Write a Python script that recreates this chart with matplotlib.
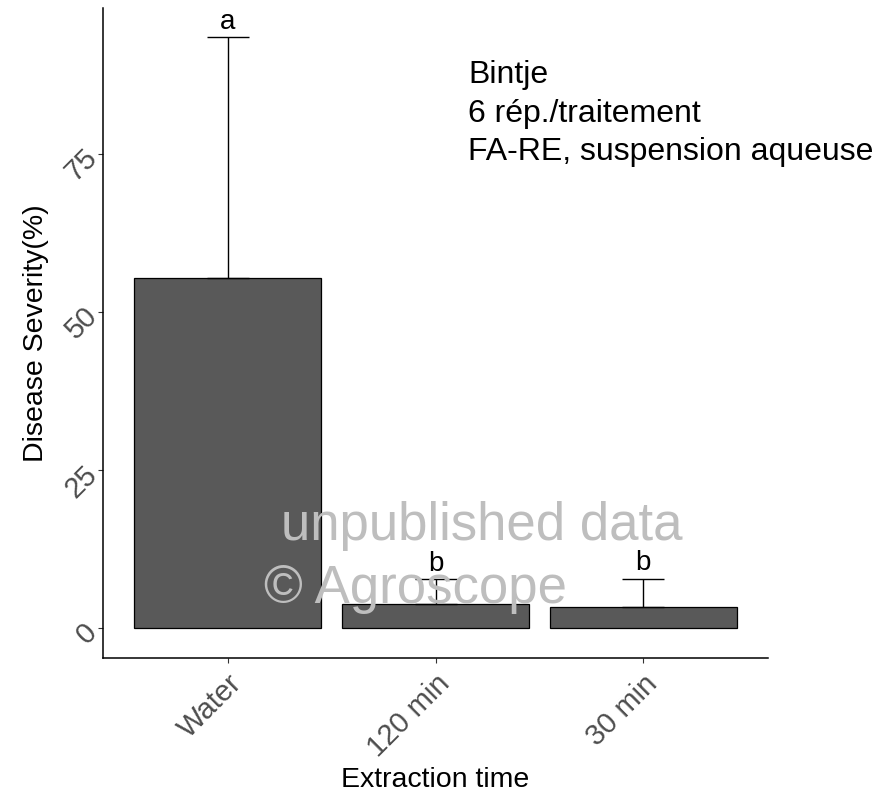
import matplotlib
matplotlib.use("Agg")
import matplotlib.pyplot as plt
import numpy as np

# data
categories = ["Water", "120 min", "30 min"]
means = [55.4, 3.8, 3.4]
se = [38.0, 3.9, 4.4]
letters = ["a", "b", "b"]

plt.rcParams['font.family'] = ['Liberation Sans', 'DejaVu Sans']

fig = plt.figure(figsize=(8.76, 7.98), dpi=100)
ax = fig.add_axes([103/876, 1-657.7/798, (768-103)/876, (657.7-8)/798])

x = np.arange(1, len(categories)+1)
ax.bar(x, means, width=0.9, color='#595959', edgecolor='black', linewidth=0.9, zorder=2)
ax.errorbar(x, means, yerr=[np.zeros(len(se)), se], fmt='none', ecolor='black',
            elinewidth=1.0, capsize=14.8, capthick=1.0, zorder=3)

top = np.array(means) + np.array(se)
for xi, t, lab in zip(x, top, letters):
    ax.annotate(lab, (xi, t), xytext=(0, 6), textcoords='offset points',
                ha='center', va='baseline', fontsize=20, color='black')

ax.set_xlim(0.4, 3.6)
ax.set_ylim(-4.67, 98)
ax.set_xticks(x)
ax.set_xticklabels(categories, rotation=45, ha='right', va='top', rotation_mode='anchor')
ax.set_yticks([0, 25, 50, 75])
ax.set_yticklabels(['0', '25', '50', '75'], rotation=45, ha='right', va='center',
                   rotation_mode='anchor')
ax.tick_params(axis='both', labelcolor='#4D4D4D', color='#333333',
               length=3.5, width=0.8)
ax.tick_params(axis='x', labelsize=21, pad=5)
ax.tick_params(axis='y', labelsize=21, pad=4)

for s in ['top', 'right']:
    ax.spines[s].set_visible(False)
for s in ['left', 'bottom']:
    ax.spines[s].set_linewidth(1.1)
    ax.spines[s].set_color('black')

ax.set_xlabel("Extraction time", fontsize=20.5, labelpad=3)
ax.set_ylabel("Disease Severity(%)", fontsize=20.5, labelpad=8)

fig.text(468/876, 1-60/798, "Bintje\n6 rép./traitement\nFA-RE, suspension aqueuse",
         fontsize=23, ha='left', va='top', linespacing=1.38)

# watermark
fig.text(482/876, 1-540/798, "unpublished data", fontsize=38, color='#BEBEBE',
         ha='center', va='baseline', zorder=10)
fig.text(415/876, 1-603/798, "© Agroscope", fontsize=38, color='#BEBEBE',
         ha='center', va='baseline', zorder=10)

fig.savefig("out.png", dpi=100)
